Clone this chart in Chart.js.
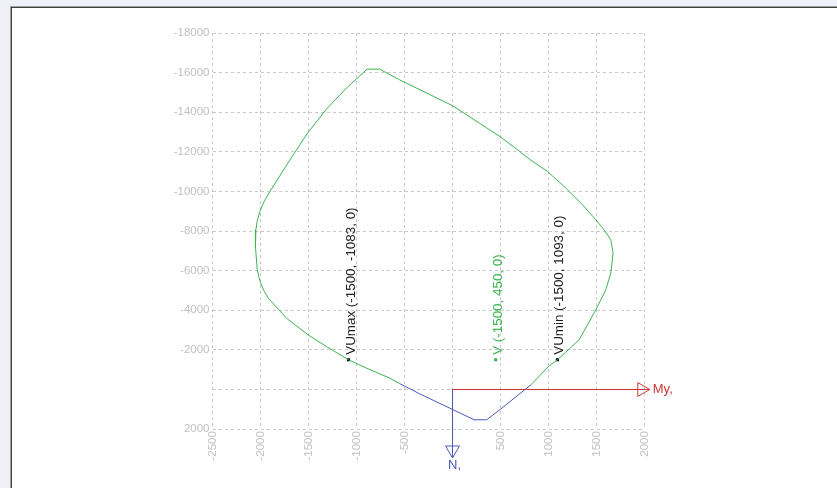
<!DOCTYPE html>
<html>
<head>
<meta charset="utf-8">
<script src="https://cdn.jsdelivr.net/npm/chart.js@4/dist/chart.umd.min.js"></script>
<style>
  html, body { margin: 0; padding: 0; width: 837px; height: 488px; overflow: hidden; background: #f0f0f8; }
  #panel { position: absolute; left: 10px; top: 6px; right: 0; bottom: 0;
           border-top: 1px solid #a0a0a0; border-left: 1px solid #a0a0a0; }
  #inner { position: absolute; left: 0; top: 0; right: 0; bottom: 0; background: #ffffff;
           border-top: 1px solid #404040; border-left: 1px solid #404040; }
  #chart { position: absolute; left: 0; top: 0; }
</style>
</head>
<body>
<div id="panel"><div id="inner"></div></div>
<canvas id="chart" width="837" height="488"></canvas>
<script>
// Interaction diagram My (x) vs N (y), N axis reversed (compression up)
const xTicks = [-2500, -2000, -1500, -1000, -500, 0, 500, 1000, 1500, 2000];
const yTicks = [-18000, -16000, -14000, -12000, -10000, -8000, -6000, -4000, -2000, 0, 2000];

// Compression-side branch of the envelope
const envelopeGreen = [
  {x: 818, y: -240}, {x: 1008, y: -1200}, {x: 1093, y: -1500}, {x: 1319, y: -2510},
  {x: 1493, y: -4025}, {x: 1554, y: -4617}, {x: 1597, y: -5037}, {x: 1649, y: -5880},
  {x: 1673, y: -6890}, {x: 1649, y: -7562}, {x: 1579, y: -8067}, {x: 1493, y: -8572},
  {x: 1354, y: -9330}, {x: 1181, y: -10172}, {x: 990, y: -11010}, {x: 800, y: -11636},
  {x: 678, y: -12106}, {x: 494, y: -12777}, {x: 3, y: -14328}, {x: -551, y: -15641},
  {x: -760, y: -16180}, {x: -890, y: -16180}, {x: -1105, y: -15222}, {x: -1313, y: -14160},
  {x: -1510, y: -12950}, {x: -1700, y: -11550}, {x: -1902, y: -10000}, {x: -1962, y: -9500},
  {x: -2006, y: -9000}, {x: -2035, y: -8500}, {x: -2048, y: -8070}, {x: -2053, y: -7600},
  {x: -2052, y: -7200}, {x: -2034, y: -6050}, {x: -2018, y: -5700}, {x: -2000, y: -5400},
  {x: -1965, y: -5000}, {x: -1920, y: -4620}, {x: -1729, y: -3600}, {x: -1504, y: -2760},
  {x: -1313, y: -2170}, {x: -1083, y: -1500}, {x: -897, y: -1080}, {x: -655, y: -580},
  {x: -551, y: -300}
];
// Tension-side branch of the envelope
const envelopeBlue = [
  {x: -551, y: -300}, {x: -343, y: 215}, {x: 226, y: 1530}, {x: 356, y: 1530},
  {x: 494, y: 1020}, {x: 768, y: -50}, {x: 818, y: -240}
];

// Design points (N, My, Mz)
const ultimatePoints = [{x: -1083, y: -1500}, {x: 1093, y: -1500}];
const ultimateLabels = ['VUmax (-1500, -1083, 0)', 'VUmin (-1500, 1093, 0)'];
const servicePoints = [{x: 450, y: -1500}];
const serviceLabels = ['V (-1500, 450, 0)'];

// Axis arrows: shaft from the origin to the tip
const myArrow = [{x: 0, y: 0}, {x: 2055, y: 0}];
const nArrow = [{x: 0, y: 0}, {x: 0, y: 3460}];
const axisNames = ['My,', 'N,'];

const GREEN = '#3cb450';
const BLUE = '#4a5ab8';
const RED = '#cc3636';
const HEAD_RADIUS = 8;

const annotationPlugin = {
  id: 'annotations',
  afterDatasetsDraw(chart) {
    const ctx = chart.ctx;
    const xs = chart.scales.x, ys = chart.scales.y;
    ctx.save();

    // open triangular arrow heads at the shaft tips
    const head = (tip, rotation, color, dx, dy) => {
      const px = xs.getPixelForValue(tip.x), py = ys.getPixelForValue(tip.y);
      ctx.strokeStyle = color;
      ctx.fillStyle = 'rgba(0,0,0,0)';
      ctx.lineWidth = 1;
      Chart.helpers.drawPoint(ctx, { pointStyle: 'triangle', rotation, radius: HEAD_RADIUS, borderWidth: 1 },
        px + dx * HEAD_RADIUS, py + dy * HEAD_RADIUS);
      return { px, py };
    };
    const myTip = head(myArrow[1], 90, RED, -1, 0);
    const nTip = head(nArrow[1], 180, BLUE, 0, -1);

    ctx.font = '13.4px "Liberation Sans", Arial, sans-serif';
    const drawVertical = (pts, labels, color) => {
      ctx.fillStyle = color;
      pts.forEach((p, i) => {
        const px = xs.getPixelForValue(p.x), py = ys.getPixelForValue(p.y);
        ctx.save();
        ctx.translate(px, py - 5);
        ctx.rotate(-Math.PI / 2);
        ctx.textAlign = 'left';
        ctx.textBaseline = 'alphabetic';
        ctx.fillText(labels[i], 0, 6);
        ctx.restore();
      });
    };
    drawVertical(ultimatePoints, ultimateLabels, '#202020');
    drawVertical(servicePoints, serviceLabels, GREEN);

    // axis names beside the arrow tips
    ctx.font = '13px "Liberation Sans", Arial, sans-serif';
    ctx.fillStyle = RED;
    ctx.textAlign = 'left';
    ctx.textBaseline = 'middle';
    ctx.fillText(axisNames[0], myTip.px + 3, myTip.py);
    ctx.fillStyle = BLUE;
    ctx.textAlign = 'center';
    ctx.textBaseline = 'top';
    ctx.fillText(axisNames[1], nTip.px + 2, nTip.py + 1);
    ctx.restore();
  }
};

const tickFont = { family: '"Liberation Sans", Arial, sans-serif', size: 11.5 };
const tickLabel = v => (v === 0 ? '' : String(v));

new Chart(document.getElementById('chart'), {
  type: 'scatter',
  data: {
    datasets: [
      { data: envelopeGreen, showLine: true, borderColor: GREEN, borderWidth: 1, pointRadius: 0, tension: 0 },
      { data: envelopeBlue, showLine: true, borderColor: BLUE, borderWidth: 1, pointRadius: 0, tension: 0 },
      { data: myArrow, showLine: true, borderColor: RED, borderWidth: 1, pointRadius: 0, clip: false },
      { data: nArrow, showLine: true, borderColor: BLUE, borderWidth: 1, pointRadius: 0, clip: false },
      { data: ultimatePoints, pointStyle: 'rect', pointRadius: 2.2, backgroundColor: '#000000', borderWidth: 0 },
      { data: servicePoints, pointStyle: 'rect', pointRadius: 2.2, backgroundColor: GREEN, borderWidth: 0 }
    ]
  },
  options: {
    responsive: false,
    animation: false,
    devicePixelRatio: 1,
    layout: { padding: { left: 152.5, top: 33.1, right: 192.5, bottom: 13.9 } },
    plugins: { legend: { display: false }, tooltip: { enabled: false } },
    scales: {
      x: {
        type: 'linear', min: -2500, max: 2000,
        afterBuildTicks: s => { s.ticks = xTicks.map(v => ({ value: v })); },
        afterFit: s => { s.height = 45; },
        grid: { color: '#c8c8c8', drawTicks: false, lineWidth: 1 },
        border: { display: false, dash: [3, 3] },
        ticks: { color: '#c0c0c0', font: tickFont, padding: 2, minRotation: 90, maxRotation: 90,
                 autoSkip: false, callback: tickLabel }
      },
      y: {
        type: 'linear', min: -18000, max: 2000, reverse: true,
        afterBuildTicks: s => { s.ticks = yTicks.map(v => ({ value: v })); },
        afterFit: s => { s.width = 60; },
        grid: { color: '#c8c8c8', drawTicks: false, lineWidth: 1 },
        border: { display: false, dash: [3, 3] },
        ticks: { color: '#c0c0c0', font: tickFont, padding: 3, autoSkip: false, callback: tickLabel }
      }
    }
  },
  plugins: [annotationPlugin]
});
</script>
</body>
</html>
